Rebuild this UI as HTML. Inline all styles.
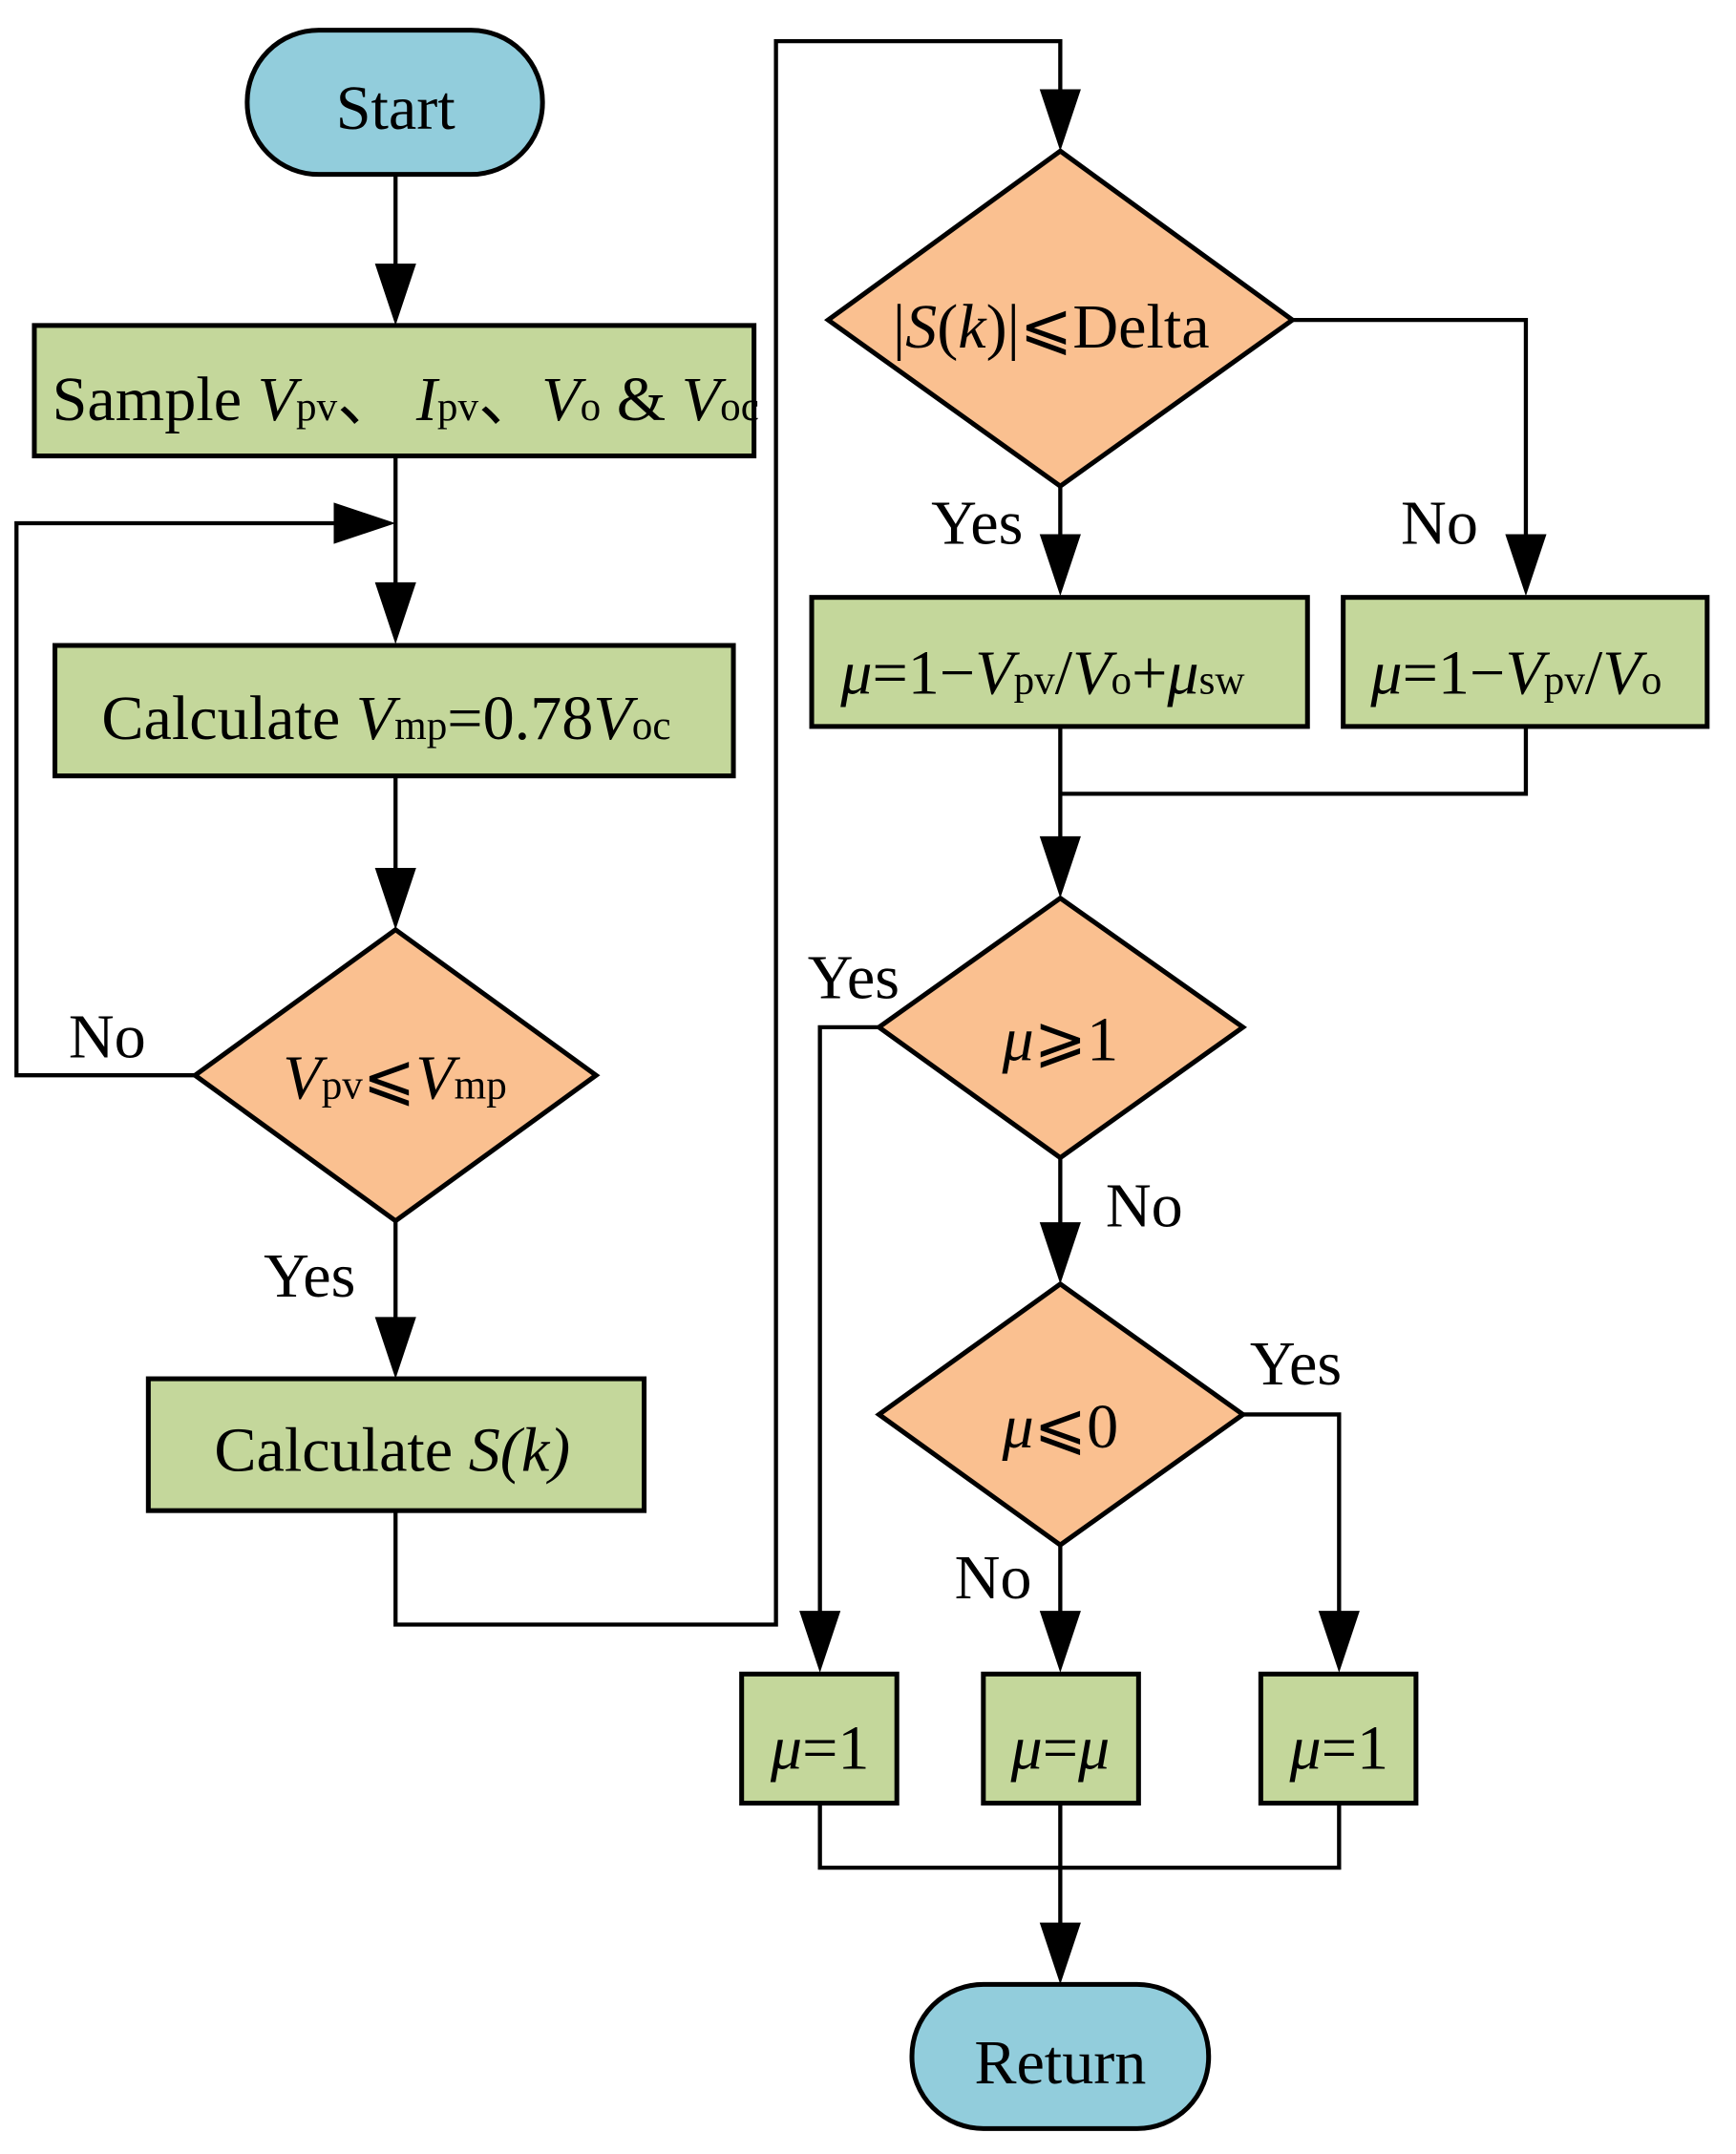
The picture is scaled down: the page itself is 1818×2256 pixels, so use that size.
<!DOCTYPE html>
<html><head><meta charset="utf-8"><style>
html,body{margin:0;padding:0;background:#fff;}
svg{display:block;}
text{font-family:"Liberation Serif",serif;fill:#000;}
</style></head><body>
<svg width="1818" height="2256" viewBox="0 0 1264 1568.5" preserveAspectRatio="none" xmlns="http://www.w3.org/2000/svg">
<defs>
<marker id="a" markerWidth="30" markerHeight="46" refX="15" refY="46" orient="auto" markerUnits="userSpaceOnUse" viewBox="0 0 30 46">
</marker>
</defs>
<g stroke="#000" stroke-width="3" fill="none">
<!-- connectors -->
<polyline points="288,127 288,200"/>
<polyline points="288,332 288,430"/>
<polyline points="142,783 12,783 12,381 250,381"/>
<polyline points="288,565 288,640"/>
<polyline points="288,889 288,966"/>
<polyline points="288,1100 288,1183 565,1183 565,30 772,30 772,72"/>
<polyline points="772,354 772,396"/>
<polyline points="941,233 1111,233 1111,396"/>
<polyline points="772,529 772,616"/>
<polyline points="1111,529 1111,578 772,578"/>
<polyline points="640,748 597,748 597,1180"/>
<polyline points="772,843 772,897"/>
<polyline points="905,1030 975,1030 975,1180"/>
<polyline points="772,1125 772,1180"/>
<polyline points="597,1313 597,1360 975,1360 975,1313"/>
<polyline points="772,1313 772,1407"/>
</g>
<g fill="#000">
<polygon points="273,192 303,192 288,237"/>
<polygon points="273,424 303,424 288,469"/>
<polygon points="243,366 243,396 288,381"/>
<polygon points="273,632 303,632 288,677"/>
<polygon points="273,959 303,959 288,1004"/>
<polygon points="757,65 787,65 772,110"/>
<polygon points="757,389 787,389 772,434"/>
<polygon points="1096,389 1126,389 1111,434"/>
<polygon points="757,609 787,609 772,654"/>
<polygon points="757,890 787,890 772,935"/>
<polygon points="582,1173 612,1173 597,1218"/>
<polygon points="757,1173 787,1173 772,1218"/>
<polygon points="960,1173 990,1173 975,1218"/>
<polygon points="757,1400 787,1400 772,1445"/>
</g>
<g stroke="#000" stroke-width="3.5">
<rect x="180" y="22" width="215" height="105" rx="52" fill="#92CDDC"/>
<rect x="664" y="1445" width="216" height="105" rx="52" fill="#92CDDC"/>
<rect x="25" y="237" width="524" height="95" fill="#C4D79B"/>
<rect x="40" y="470" width="494" height="95" fill="#C4D79B"/>
<rect x="108" y="1004" width="361" height="96" fill="#C4D79B"/>
<rect x="591" y="435" width="361" height="94" fill="#C4D79B"/>
<rect x="978" y="435" width="265" height="94" fill="#C4D79B"/>
<rect x="540" y="1219" width="113" height="94" fill="#C4D79B"/>
<rect x="716" y="1219" width="113" height="94" fill="#C4D79B"/>
<rect x="918" y="1219" width="113" height="94" fill="#C4D79B"/>
<polygon points="288,677 434,783 288,889 142,783" fill="#FAC090"/>
<polygon points="772,110 941,233 772,354 603,233" fill="#FAC090"/>
<polygon points="772,654 905,748 772,843 640,748" fill="#FAC090"/>
<polygon points="772,935 905,1030 772,1125 640,1030" fill="#FAC090"/>
</g>
<g font-size="46">
<text x="288" y="94" text-anchor="middle">Start</text>
<text x="772" y="1517" text-anchor="middle">Return</text>
<text x="38" y="306">Sample <tspan font-style="italic">V</tspan><tspan font-size="30">pv</tspan>、 <tspan font-style="italic">I</tspan><tspan font-size="30">pv</tspan>、<tspan font-style="italic">V</tspan><tspan font-size="30">o</tspan> &amp; <tspan font-style="italic">V</tspan><tspan font-size="30">oc</tspan></text>
<text x="74" y="538">Calculate <tspan font-style="italic">V</tspan><tspan font-size="30">mp</tspan>=0.78<tspan font-style="italic">V</tspan><tspan font-size="30">oc</tspan></text>
<text x="206" y="800"><tspan font-style="italic">V</tspan><tspan font-size="30">pv</tspan>⩽<tspan font-style="italic">V</tspan><tspan font-size="30">mp</tspan></text>
<text x="156" y="1071">Calculate <tspan font-style="italic">S(k)</tspan></text>
<text x="650" y="253">|<tspan font-style="italic">S</tspan>(<tspan font-style="italic">k</tspan>)|⩽Delta</text>
<text x="612" y="505"><tspan font-style="italic">μ</tspan>=1−<tspan font-style="italic">V</tspan><tspan font-size="30">pv</tspan>/<tspan font-style="italic">V</tspan><tspan font-size="30">o</tspan>+<tspan font-style="italic">μ</tspan><tspan font-size="30">sw</tspan></text>
<text x="998" y="505"><tspan font-style="italic">μ</tspan>=1−<tspan font-style="italic">V</tspan><tspan font-size="30">pv</tspan>/<tspan font-style="italic">V</tspan><tspan font-size="30">o</tspan></text>
<text x="772" y="772" text-anchor="middle"><tspan font-style="italic">μ</tspan>⩾1</text>
<text x="772" y="1054" text-anchor="middle"><tspan font-style="italic">μ</tspan>⩽0</text>
<text x="597" y="1288" text-anchor="middle"><tspan font-style="italic">μ</tspan>=1</text>
<text x="772" y="1288" text-anchor="middle"><tspan font-style="italic">μ</tspan>=<tspan font-style="italic">μ</tspan></text>
<text x="975" y="1288" text-anchor="middle"><tspan font-style="italic">μ</tspan>=1</text>
<text x="50" y="770">No</text>
<text x="192" y="944">Yes</text>
<text x="678" y="396">Yes</text>
<text x="1020" y="396">No</text>
<text x="588" y="727">Yes</text>
<text x="805" y="893">No</text>
<text x="910" y="1008">Yes</text>
<text x="695" y="1164">No</text>
</g>
</svg>
</body></html>
